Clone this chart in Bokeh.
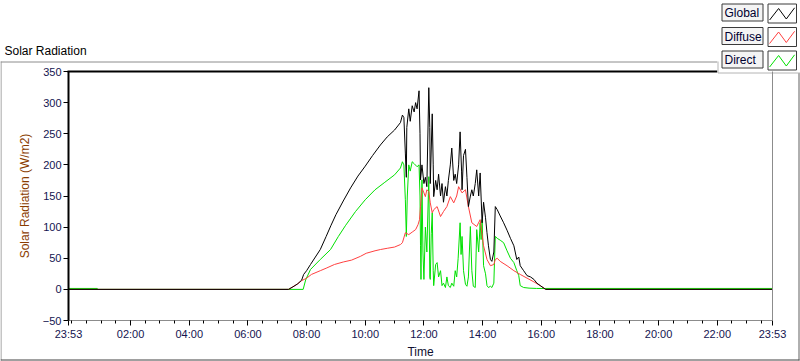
from bokeh.plotting import figure
from bokeh.models import Range1d, FixedTicker, LinearAxis, CustomJSTickFormatter
from bokeh.core.properties import value
from bokeh.embed import file_html
from bokeh.resources import INLINE

# time axis in minutes since 00:00 (23:53 of previous day = -7)
x_start, x_end = -7, 1433
major_ticks = [-7, 120, 240, 360, 480, 600, 720, 840, 960, 1080, 1200, 1320, 1433]
minor_ticks = [0, 30, 60, 90, 120, 150, 180, 210, 240, 270, 300, 330, 360, 390, 420, 450,
               480, 510, 540, 570, 600, 630, 660, 690, 720, 750, 780, 810, 840, 870, 900,
               930, 960, 990, 1020, 1050, 1080, 1110, 1140, 1170, 1200, 1230, 1260, 1290,
               1320, 1350, 1380, 1410]
y_ticks = [-50, 0, 50, 100, 150, 200, 250, 300, 350]

global_t = [-7, 443, 452, 462, 470, 474, 480, 488, 498, 508, 520, 530, 540, 555, 570, 585,
            600, 615, 631, 645, 660, 668, 672, 676, 679, 682, 684, 685, 689, 692, 696, 700,
            703, 706, 710, 712, 713, 716, 720, 723, 726, 730, 732, 733, 737, 739, 740, 744,
            747, 750, 754, 757, 760, 764, 767, 770, 774, 777, 781, 784, 787, 791, 794, 797,
            798, 801, 805, 808, 811, 815, 818, 821, 825, 828, 832, 835, 839, 842, 846, 849,
            852, 856, 859, 863, 866, 870, 876, 883, 890, 897, 904, 910, 914, 917, 924, 931,
            938, 945, 951, 958, 969, 1433]
global_v = [0, 0, 4, 9, 15, 24, 30, 40, 52, 64, 85, 103, 120, 142, 163, 182,
            198, 215, 232, 245, 256, 264, 268, 280, 276, 219, 180, 260, 290, 270, 295, 285,
            300, 290, 319, 250, 176, 200, 170, 180, 165, 324, 260, 170, 282, 200, 149, 175,
            160, 185, 150, 170, 140, 165, 150, 175, 200, 227, 175, 185, 170, 200, 253, 190,
            160, 215, 225, 180, 133, 150, 160, 150, 170, 192, 150, 187, 107, 140, 115, 91,
            70, 48, 45, 60, 133, 128, 118, 107, 95, 82, 70, 48, 52, 38, 30, 22,
            20, 16, 10, 6, 0, 0]

diffuse_t = [-7, 443, 460, 470, 480, 490, 508, 520, 537, 555, 572, 590, 602, 620, 631, 645,
             660, 672, 676, 682, 689, 696, 703, 708, 711, 713, 716, 720, 723, 726, 730, 733,
             737, 740, 747, 754, 760, 767, 774, 781, 787, 791, 798, 805, 811, 818, 828, 835,
             842, 849, 856, 863, 866, 870, 876, 890, 904, 917, 931, 945, 958, 969, 1433]
diffuse_v = [0, 0, 8, 14, 18, 24, 30, 34, 40, 44, 47, 53, 58, 62, 64, 66,
             68, 72, 75, 91, 88, 92, 96, 104, 112, 133, 163, 155, 149, 160, 157, 139,
             123, 128, 133, 117, 125, 133, 149, 139, 150, 165, 155, 160, 133, 107, 101, 112,
             70, 48, 38, 40, 48, 50, 45, 38, 30, 24, 18, 12, 6, 0, 0]

direct_t = [-7, 52, 53, 473, 478, 488, 508, 529, 545, 560, 580, 600, 620, 640, 660, 672,
            676, 679, 682, 684, 686, 689, 692, 696, 700, 706, 710, 712, 713, 714, 716, 718,
            720, 723, 726, 730, 732, 733, 735, 737, 739, 740, 744, 747, 750, 754, 757, 760,
            764, 767, 770, 774, 777, 781, 784, 787, 790, 794, 796, 798, 801, 805, 808, 811,
            815, 818, 821, 825, 828, 832, 835, 837, 839, 842, 846, 849, 852, 856, 859, 863,
            866, 870, 876, 883, 890, 897, 904, 910, 914, 917, 924, 935, 950, 1433]
direct_v = [1.5, 1.5, 0, 0, 15, 32, 48, 64, 85, 103, 125, 144, 160, 172, 184, 195,
            205, 200, 144, 85, 150, 200, 190, 205, 202, 197, 200, 150, 70, 16, 176, 60,
            16, 100, 60, 181, 20, 16, 90, 123, 30, 6, 40, 43, 20, 30, 6, 10,
            3, 20, 6, 3, 10, 5, 30, 20, 50, 107, 56, 85, 30, 8, 5, 20,
            101, 30, 5, 3, 96, 60, 107, 80, 112, 38, 25, 6, 3, 5, 3, 10,
            85, 82, 79, 75, 62, 50, 43, 30, 22, 6, 3, 2, 1.5, 1.5]

series_names = ["Global", "Diffuse", "Direct"]
series_colors = ["#000000", "#ff4040", "#00e000"]

FONT = "Liberation Sans"
TICK_COLOR = "#141450"
W, H = 800, 361

# ---------------- background layer: panel frame, title, legend (pixel space) -------------
bg = figure(width=W, height=H, x_range=Range1d(0, W), y_range=Range1d(H, 0),
            x_axis_type=None, y_axis_type=None, min_border=0,
            min_border_left=0, min_border_right=0, min_border_top=0, min_border_bottom=0,
            output_backend="svg", toolbar_location=None)
bg.grid.visible = False
bg.outline_line_color = None
bg.background_fill_color = "white"
bg.border_fill_color = "white"

# outer panel edges
bg.segment(x0=[0, 0.5, 798.5, 0], y0=[61.5, 61, 72, 359.5],
           x1=[717, 0.5, 798.5, 799], y1=[61.5, 360, 360, 359.5],
           line_color=["#8c8c8c", "#8c8c8c", "#606060", "#404040"], line_width=1)
# black top edge of the plot area
bg.segment(x0=[67], y0=[71], x1=[717], y1=[71], line_color="#000000", line_width=2)
# title
bg.text(x=[4], y=[50], text=["Solar Radiation"], text_font=value(FONT),
        text_font_size="12px", text_color="#000000", text_baseline="middle",
        text_align="left")

# legend panel
bg.quad(left=[717], right=[800], top=[0], bottom=[72.5], fill_color="white",
        line_color=None)
bg.segment(x0=[717.5, 717.5], y0=[61, 72.5], x1=[717.5, 800], y1=[72.5, 72.5],
           line_color="#b4b4b4", line_width=1)
row_tops = [3.5, 27, 50.5]
for name, col, r in zip(series_names, series_colors, row_tops):
    bg.quad(left=[721.5], right=[762.5], top=[r], bottom=[r + 17], fill_color="#f4f4f4",
            line_color="#3a3a3a", line_width=1)
    bg.text(x=[724], y=[r + 9], text=[name], text_font=value(FONT),
            text_font_size="12px", text_color="#000030", text_baseline="middle",
            text_align="left")
    L = 767.5
    bg.quad(left=[L], right=[L + 28.5], top=[r], bottom=[r + 19], fill_color="white",
            line_color="#3a3a3a", line_width=1)
    bg.line(x=[L + 1.6, L + 10.6, L + 18.3, L + 26.6], y=[r + 16, r + 4.5, r + 15, r + 3.8],
            line_color=col, line_width=1)

# ---------------- chart layer (overlaid on the background) ----------------
p = figure(width=W, height=H, output_backend="svg", toolbar_location=None,
           x_range=Range1d(x_start, x_end), y_range=Range1d(-50, 350),
           min_border_left=68, min_border_right=28, min_border_top=71, min_border_bottom=39)
p.styles = {"margin-top": "-361px"}
p.grid.visible = False
p.outline_line_color = None
p.background_fill_color = None
p.border_fill_color = None

# draw order: Direct, Diffuse, Global
p.line(direct_t, direct_v, line_color=series_colors[2], line_width=1)
p.line(diffuse_t, diffuse_v, line_color=series_colors[1], line_width=1)
p.line(global_t, global_v, line_color=series_colors[0], line_width=1)

xa = p.xaxis[0]
xa.ticker = FixedTicker(ticks=major_ticks, minor_ticks=minor_ticks)
xa.formatter = CustomJSTickFormatter(code="""
const m = ((Math.round(tick) % 1440) + 1440) % 1440;
const h = Math.floor(m / 60), mm = m % 60;
return String(h).padStart(2, '0') + ':' + String(mm).padStart(2, '0');
""")
xa.axis_label = "Time"
xa.axis_line_color = "#8c8c8c"
xa.major_tick_out = 5
xa.major_tick_in = 0
xa.minor_tick_out = 3
xa.minor_tick_in = 0
xa.major_tick_line_color = "#000000"
xa.minor_tick_line_color = "#000000"
xa.major_label_text_font = FONT
xa.major_label_text_font_size = "11px"
xa.major_label_text_color = TICK_COLOR
xa.major_label_standoff = 2
xa.axis_label_text_font = FONT
xa.axis_label_text_font_size = "12px"
xa.axis_label_text_font_style = "normal"
xa.axis_label_text_color = "#101030"
xa.axis_label_standoff = 2

ya = p.yaxis[0]
ya.ticker = FixedTicker(ticks=y_ticks, minor_ticks=[])
ya.axis_label = "Solar Radiation (W/m2)"
ya.axis_line_color = "#000000"
ya.axis_line_width = 2
ya.major_tick_out = 5
ya.major_tick_in = 0
ya.minor_tick_out = 0
ya.minor_tick_in = 0
ya.major_tick_line_color = "#000000"
ya.major_label_text_font = FONT
ya.major_label_text_font_size = "11px"
ya.major_label_text_color = TICK_COLOR
ya.major_label_standoff = 2
ya.axis_label_text_font = FONT
ya.axis_label_text_font_size = "12px"
ya.axis_label_text_font_style = "normal"
ya.axis_label_text_color = "#8a3c00"
ya.axis_label_standoff = 8

# gray right edge of the plot area
right_edge = LinearAxis(ticker=FixedTicker(ticks=[]), major_tick_out=0, major_tick_in=0,
                        minor_tick_out=0, minor_tick_in=0, major_label_text_alpha=0,
                        axis_line_color="#8c8c8c", axis_line_width=1)
p.add_layout(right_edge, "right")

open("out.html", "w").write(file_html([bg, p], INLINE))
